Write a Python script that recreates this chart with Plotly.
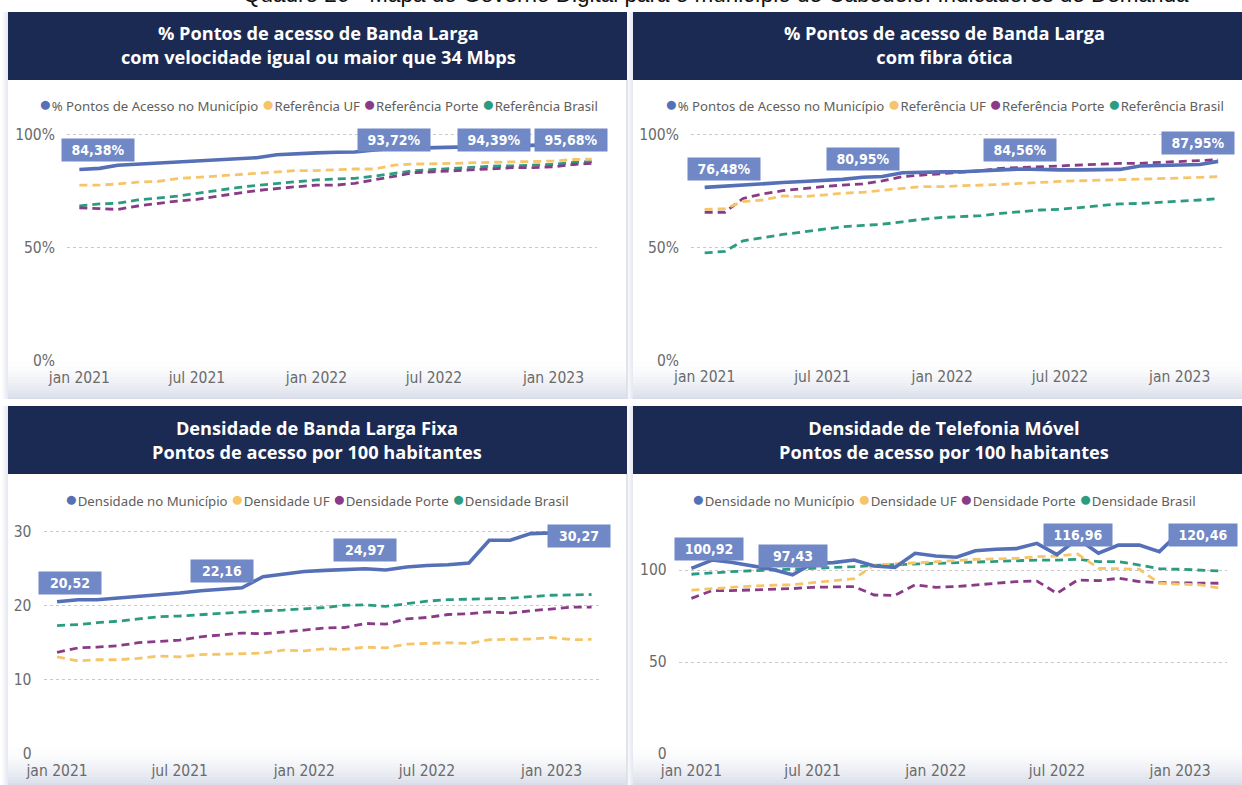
import pandas as pd
import plotly.graph_objects as go

W, H = 1242, 785

# ---------------- DATA ----------------
months = pd.date_range("2021-01-01", periods=27, freq="MS")
tick_dates = ["2021-01-01", "2021-07-01", "2022-01-01", "2022-07-01", "2023-01-01"]
tick_text = ["jan 2021", "jul 2021", "jan 2022", "jul 2022", "jan 2023"]

# Chart 1: % pontos de acesso >= 34 Mbps
c1_mun = [84.38, 84.9, 86.3, 86.8, 87.4, 87.9, 88.5, 89.0, 89.3, 89.6, 90.9, 91.4, 91.7, 92.0,
          92.1, 93.0, 93.72, 93.8, 94.0, 94.1, 94.2, 94.39, 94.6, 94.9, 95.2, 95.4, 95.68]
c1_uf = [77.5, 77.5, 78.0, 78.8, 79.1, 80.4, 80.9, 81.5, 82.2, 82.7, 83.4, 83.9, 83.9, 84.4,
         84.6, 84.6, 86.3, 86.8, 86.8, 87.1, 87.4, 87.5, 87.8, 87.9, 88.1, 88.8, 89.0]
c1_porte = [67.5, 67.2, 66.8, 68.3, 69.5, 70.5, 71.2, 72.7, 73.9, 75.1, 76.1, 76.8, 77.5, 77.5,
            78.3, 79.8, 81.5, 83.0, 83.4, 83.9, 84.4, 84.9, 85.2, 85.2, 85.6, 86.6, 87.1]
c1_brasil = [68.4, 69.2, 69.5, 71.0, 71.8, 72.7, 73.9, 75.3, 76.4, 77.4, 78.3, 79.0, 79.8, 80.2,
             80.5, 81.5, 82.7, 83.9, 84.4, 84.9, 85.6, 85.9, 86.0, 86.2, 86.6, 87.5, 87.9]
c1_label_idx = [0, 16, 21, 26]

# Chart 2: % pontos de acesso com fibra ótica
c2_mun = [76.48, 77.1, 77.6, 78.1, 78.6, 79.1, 79.6, 80.0, 80.95, 81.3, 82.9, 83.2, 83.3, 83.4,
          83.6, 84.2, 84.56, 84.3, 84.2, 84.2, 84.3, 84.4, 85.9, 86.1, 86.3, 86.6, 87.95]
c2_uf = [66.8, 67.1, 70.2, 70.9, 72.7, 72.4, 73.1, 73.9, 74.3, 75.0, 76.0, 76.8, 76.8, 77.2,
         77.4, 77.8, 78.2, 78.8, 79.1, 79.4, 79.6, 79.7, 80.0, 80.3, 80.6, 80.9, 81.2]
c2_porte = [65.5, 65.5, 71.6, 73.6, 75.0, 76.0, 76.8, 77.5, 78.0, 79.3, 81.2, 81.9, 82.7, 83.2,
            83.8, 84.9, 85.2, 85.6, 85.9, 86.6, 86.9, 87.1, 87.1, 87.4, 87.7, 88.3, 88.7]
c2_brasil = [47.6, 48.2, 52.9, 54.4, 55.7, 56.8, 57.9, 59.1, 59.7, 60.2, 61.3, 62.4, 63.2, 63.5,
             64.0, 65.0, 65.8, 66.5, 66.8, 67.7, 68.3, 69.2, 69.4, 69.8, 70.3, 70.9, 71.5]
c2_label_idx = [0, 8, 16, 26]

# Chart 3: densidade de banda larga fixa
c3_mun = [20.52, 20.8, 20.8, 21.04, 21.27, 21.4, 21.7, 22.0, 22.16, 22.4, 23.9, 24.3, 24.6, 24.75,
          24.85, 24.97, 24.8, 25.2, 25.4, 25.5, 25.75, 28.8, 28.8, 29.7, 29.8, 30.0, 30.27]
c3_uf = [13.1, 12.55, 12.7, 12.7, 12.9, 13.2, 13.1, 13.4, 13.45, 13.55, 13.6, 14.0, 13.9, 14.2,
         14.1, 14.4, 14.3, 14.8, 14.9, 15.0, 14.9, 15.4, 15.45, 15.5, 15.7, 15.4, 15.45]
c3_porte = [13.7, 14.3, 14.4, 14.6, 15.0, 15.2, 15.35, 15.8, 16.1, 16.3, 16.2, 16.4, 16.7, 17.0,
            17.05, 17.6, 17.5, 18.2, 18.4, 18.8, 18.9, 19.15, 19.0, 19.3, 19.6, 19.8, 19.8]
c3_brasil = [17.3, 17.45, 17.7, 17.9, 18.2, 18.5, 18.6, 18.8, 19.0, 19.15, 19.3, 19.4, 19.6, 19.75,
             20.05, 20.1, 19.9, 20.3, 20.6, 20.8, 20.9, 21.0, 21.0, 21.2, 21.4, 21.45, 21.5]
c3_label_idx = [0, 8, 15, 26]

# Chart 4: densidade de telefonia móvel
c4_mun = [100.92, 105.4, 104.2, 102.2, 100.4, 97.43, 103.6, 104.0, 105.4, 102.2, 101.4, 109.1, 107.6,
          106.9, 110.5, 111.3, 111.6, 114.5, 108.4, 116.96, 109.1, 113.5, 113.5, 110.0, 120.8, 121.5, 120.46]
c4_uf = [89.1, 89.9, 90.6, 91.3, 91.7, 92.0, 93.1, 94.2, 95.3, 102.7, 103.3, 103.6, 104.6, 105.1,
         105.8, 106.2, 106.3, 107.2, 107.6, 108.7, 100.9, 100.7, 100.4, 92.8, 92.4, 91.9, 90.1]
c4_porte = [84.6, 88.8, 88.8, 89.1, 89.5, 89.9, 90.6, 90.6, 91.0, 86.4, 86.2, 91.9, 90.6, 91.0,
            91.9, 92.8, 93.7, 94.0, 87.3, 94.6, 94.2, 95.5, 93.7, 93.1, 93.1, 92.8, 92.8]
c4_brasil = [97.7, 98.6, 99.1, 99.6, 100.0, 100.7, 101.1, 101.4, 101.8, 102.5, 102.9, 103.3, 103.6, 104.0,
             104.6, 104.9, 105.1, 105.4, 105.4, 105.8, 104.6, 104.6, 102.7, 100.7, 100.4, 100.0, 99.5]
c4_label_idx = [0, 5, 19, 26]

titles = [
    "% Pontos de acesso de Banda Larga<br>com velocidade igual ou maior que 34 Mbps",
    "% Pontos de acesso de Banda Larga<br>com fibra ótica",
    "Densidade de Banda Larga Fixa<br>Pontos de acesso por 100 habitantes",
    "Densidade de Telefonia Móvel<br>Pontos de acesso por 100 habitantes",
]
legend_names_pct = ["% Pontos de Acesso no Município", "Referência UF", "Referência Porte", "Referência Brasil"]
legend_names_den = ["Densidade no Município", "Densidade UF", "Densidade Porte", "Densidade Brasil"]
page_title = "Quadro 26 - Mapa do Governo Digital para o município de Cabedelo: Indicadores de Demanda"

# ---------------- STYLE ----------------
C_MUN, C_UF, C_PORTE, C_BR = "#5670b8", "#f6c56a", "#8a3b87", "#2c9c80"
C_LABEL = "#7088c6"
C_HEAD = "#1b2a52"
TXT_GRAY = "#6a6a6a"
TICK_FONT = dict(family="Liberation Sans Narrow, DejaVu Sans Condensed, Roboto, sans-serif", size=15.5, color=TXT_GRAY)
LABEL_FONT = dict(family="Liberation Sans Narrow, DejaVu Sans Condensed, Roboto, sans-serif", size=14, color="white", weight="bold")


def px(x):
    return x / W


def py(y):
    return 1 - y / H


# panel geometry (pixels): x0, x1, header top, header bottom, bottom, text center x, legend y
panels = [
    (8, 627, 12, 80, 399, 318, 103),
    (633, 1262, 12, 80, 399, 944, 103),
    (8, 627, 406, 474, 790, 317, 498),
    (633, 1262, 406, 474, 790, 944, 498),
]

subplots = [
    dict(dom=(67, 597, 125, 361), xr=["2020-12-13", "2023-03-09"], yr=[0, 104],
         tv=[0, 50, 100], tt=["0%", "50%", "100%"], off=8.4, cap=97.4, xs=[19, 0, 0, -21], bw=66, pct=True),
    dict(dom=(691, 1222, 125, 360.7), xr=["2020-12-11", "2023-03-07"], yr=[0, 104],
         tv=[0, 50, 100], tt=["0%", "50%", "100%"], off=8.2, cap=97.4, xs=[19, 0, 0, -20], bw=66, pct=True),
    dict(dom=(43.5, 599, 524, 754), xr=["2020-12-12", "2023-03-12"], yr=[0, 31],
         tv=[0, 10, 20, 30], tt=["0", "10", "20", "30"], off=2.56, cap=29.43, xs=[13, 0, 0, -13], bw=56, pct=False),
    dict(dom=(678.7, 1227, 524, 754), xr=["2020-12-13", "2023-03-12"], yr=[0, 125],
         tv=[0, 50, 100], tt=["0", "50", "100"], off=10.3, cap=118.9, xs=[18, 0, 0, -17], bw=62, pct=False),
]

series_sets = [
    (c1_mun, c1_uf, c1_porte, c1_brasil, c1_label_idx),
    (c2_mun, c2_uf, c2_porte, c2_brasil, c2_label_idx),
    (c3_mun, c3_uf, c3_porte, c3_brasil, c3_label_idx),
    (c4_mun, c4_uf, c4_porte, c4_brasil, c4_label_idx),
]

fig = go.Figure()
shapes = []
annotations = []

for i, (x0, x1, yh0, yh1, yb, cx, ly) in enumerate(panels):
    shapes.append(dict(type="rect", xref="paper", yref="paper", x0=px(x0), x1=px(x1), y0=py(yb), y1=py(yh1),
                       fillcolor="white", line=dict(width=0), layer="below"))
    for k in range(6):
        shapes.append(dict(type="rect", xref="paper", yref="paper", x0=px(x0 - 6 + k), x1=px(x0 - 5 + k),
                           y0=py(yb), y1=py(yh0), fillcolor=f"rgba(200,206,224,{0.08 + 0.07 * k:.2f})",
                           line=dict(width=0), layer="below"))
    n = 14
    gh = 38
    ybot = min(yb, H)
    for k in range(n):
        ya = ybot - gh + k * gh / n
        shapes.append(dict(type="rect", xref="paper", yref="paper", x0=px(x0), x1=px(x1),
                           y0=py(ya + gh / n), y1=py(ya),
                           fillcolor=f"rgba(196,203,222,{0.03 + 0.6 * (k / (n - 1)) ** 1.6:.3f})",
                           line=dict(width=0), layer="below"))
    if x1 < W:
        shapes.append(dict(type="line", xref="paper", yref="paper", x0=px(x1), x1=px(x1), y0=py(yb), y1=py(yh1),
                           line=dict(color="#d9dce5", width=1.5), layer="below"))
    shapes.append(dict(type="rect", xref="paper", yref="paper", x0=px(x0), x1=px(x1), y0=py(yh1), y1=py(yh0),
                       fillcolor=C_HEAD, line=dict(width=0), layer="below"))
    annotations.append(dict(xref="paper", yref="paper", x=px(cx), y=py((yh0 + yh1) / 2 - 0.5), text="<b>" + titles[i] + "</b>",
                            showarrow=False, xanchor="center", yanchor="middle", align="center",
                            font=dict(family="Open Sans, Noto Sans, sans-serif", size=18.2, color="white")))
    names = legend_names_pct if i < 2 else legend_names_den
    cols = [C_MUN, C_UF, C_PORTE, C_BR]
    parts = []
    for c, nme in zip(cols, names):
        parts.append(f"<span style='color:{c};font-size:21px'>●</span>{nme}")
    annotations.append(dict(xref="paper", yref="paper", x=px(cx), y=py(ly), text=" ".join(parts),
                            showarrow=False, xanchor="center", yanchor="middle",
                            font=dict(family="Noto Sans, Open Sans, sans-serif", size=13.2, color="#605e5c")))

layout_axes = {}
for i, (sp, ss) in enumerate(zip(subplots, series_sets)):
    mun, uf, porte, br, lidx = ss
    ax = "" if i == 0 else str(i + 1)
    xa, ya = "x" + ax, "y" + ax
    for vals, col, dash, wid in [(br, C_BR, "8px,5px", 2.8), (porte, C_PORTE, "8px,5px", 2.8),
                                 (uf, C_UF, "8px,5px", 2.8), (mun, C_MUN, "solid", 3.6)]:
        fig.add_trace(go.Scatter(x=months, y=vals, mode="lines", xaxis=xa, yaxis=ya, showlegend=False,
                                 line=dict(color=col, width=wid, dash=dash), hoverinfo="skip"))
    l, r, t, b = sp["dom"]
    layout_axes["xaxis" + ax] = dict(domain=[px(l), px(r)], range=sp["xr"], type="date", anchor=ya,
                                     tickvals=tick_dates, ticktext=tick_text, showgrid=False, zeroline=False,
                                     showline=False, ticks="", tickfont=TICK_FONT, ticklabelstandoff=5,
                                     automargin=False, fixedrange=True)
    layout_axes["yaxis" + ax] = dict(domain=[py(b), py(t)], range=sp["yr"], anchor=xa, tickvals=sp["tv"],
                                     ticktext=sp["tt"], showgrid=True, gridcolor="#c9c9c9", griddash="dot",
                                     gridwidth=1, zeroline=False, showline=False, ticks="", tickfont=TICK_FONT,
                                     ticklabelstandoff=11, automargin=False, fixedrange=True)
    for j, idx in enumerate(lidx):
        v = mun[idx]
        txt = f"{v:.2f}".replace(".", ",") + ("%" if sp["pct"] else "")
        annotations.append(dict(xref=xa, yref=ya, x=months[idx], y=min(v + sp["off"], sp["cap"]),
                                text="<b>" + txt + "</b>", showarrow=False, xanchor="center", yanchor="middle",
                                xshift=sp["xs"][j], bgcolor=C_LABEL, borderpad=3, width=sp["bw"],
                                font=LABEL_FONT))

annotations.append(dict(xref="paper", yref="paper", x=px(716), y=py(9), text=page_title, showarrow=False,
                        xanchor="center", yanchor="bottom",
                        font=dict(family="Liberation Sans, Arial, sans-serif", size=22.5, color="#111111")))

fig.update_layout(width=W, height=H, margin=dict(l=0, r=0, t=0, b=0, autoexpand=False), paper_bgcolor="white",
                  plot_bgcolor="rgba(0,0,0,0)", shapes=shapes, annotations=annotations, showlegend=False,
                  **layout_axes)

fig.write_html("out.html", config={"displayModeBar": False, "staticPlot": True},
               post_script="document.body.style.margin='0';document.body.style.overflow='hidden';")
